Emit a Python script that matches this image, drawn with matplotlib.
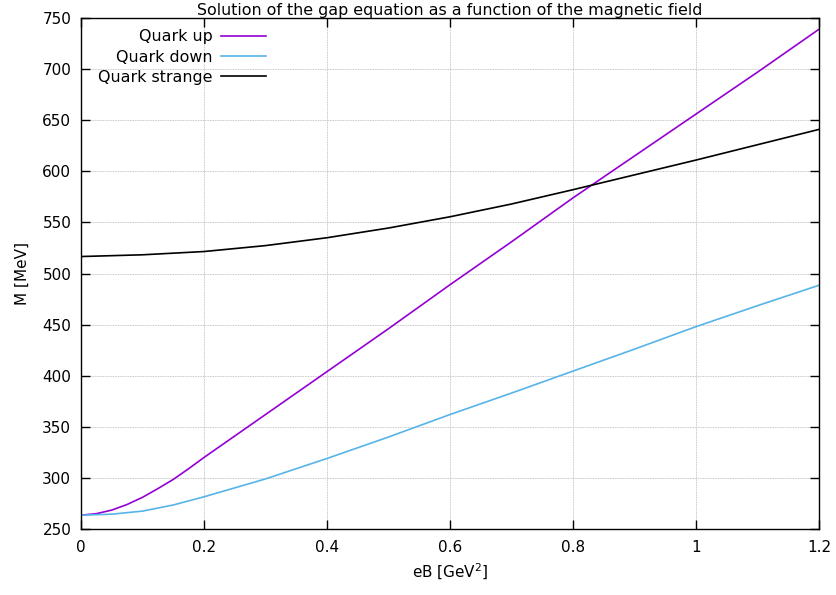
import matplotlib
matplotlib.use("Agg")
import matplotlib.pyplot as plt

# Magnetic field eB [GeV^2] and constituent masses M [MeV]
eb_up = [0.0, 0.025, 0.05, 0.075, 0.1, 0.125, 0.15, 0.175, 0.2,
         0.3, 0.4, 0.5, 0.6, 0.7, 0.8, 0.9, 1.0, 1.1, 1.2]
m_up = [263.5, 265.0, 268.5, 274.0, 281.0, 289.5, 298.5, 309.0, 320.0,
        362.0, 404.0, 446.0, 489.0, 531.0, 574.0, 615.0, 656.0, 697.0, 739.0]

eb_down = [0.0, 0.05, 0.1, 0.15, 0.2, 0.3, 0.4, 0.5, 0.6,
           0.7, 0.8, 0.9, 1.0, 1.1, 1.2]
m_down = [263.5, 264.5, 267.5, 273.5, 281.5, 299.0, 319.0, 340.0, 362.0,
          383.0, 404.5, 426.0, 448.0, 468.5, 488.5]

eb_strange = [0.0, 0.1, 0.2, 0.3, 0.4, 0.5, 0.6, 0.7, 0.8, 0.9, 1.0, 1.1, 1.2]
m_strange = [516.6, 518.3, 521.5, 527.3, 535.0, 544.5, 555.5, 568.0,
             582.0, 596.5, 611.0, 626.0, 641.0]

x_ticks = [0, 0.2, 0.4, 0.6, 0.8, 1.0, 1.2]
x_tick_labels = ["0", "0.2", "0.4", "0.6", "0.8", "1", "1.2"]
y_ticks = [250, 300, 350, 400, 450, 500, 550, 600, 650, 700, 750]

FS = 11
FS_TEXT = 11.4
plt.rcParams["font.family"] = ["DejaVu Sans"]
plt.rcParams["font.size"] = FS

fig = plt.figure(figsize=(8.36, 5.95), dpi=100)
ax = fig.add_axes([81 / 836, 1 - 529 / 595, 738 / 836, 511 / 595])

ax.plot(eb_up, m_up, color="#9400D3", lw=1.2, label="Quark up")
ax.plot(eb_down, m_down, color="#56B4E9", lw=1.2, label="Quark down")
ax.plot(eb_strange, m_strange, color="black", lw=1.2, label="Quark strange")

ax.set_xlim(0, 1.2)
ax.set_ylim(250, 750)
ax.set_xticks(x_ticks)
ax.set_xticklabels(x_tick_labels)
ax.set_yticks(y_ticks)

ax.tick_params(direction="in", length=6.5, width=1.0, top=True, right=True,
               labelsize=FS)
ax.tick_params(axis="x", pad=8)
ax.tick_params(axis="y", pad=7)
for sp in ax.spines.values():
    sp.set_linewidth(1.0)

ax.grid(True, color="#b4b4b4", linestyle=(0, (1, 1)), linewidth=0.6)
ax.set_axisbelow(True)

ax.set_title("Solution of the gap equation as a function of the magnetic field",
             fontsize=FS_TEXT, pad=2)
ax.set_xlabel(r"eB [GeV$^2$]", fontsize=FS, labelpad=5)
ax.set_ylabel("M [MeV]", fontsize=FS, labelpad=9)

leg = ax.legend(loc="upper left", bbox_to_anchor=(0.0125, 0.993),
                frameon=False, markerfirst=False, borderpad=0,
                handlelength=2.8, handletextpad=0.55, labelspacing=0.33,
                fontsize=FS_TEXT)

fig.savefig("out.png", dpi=100)
